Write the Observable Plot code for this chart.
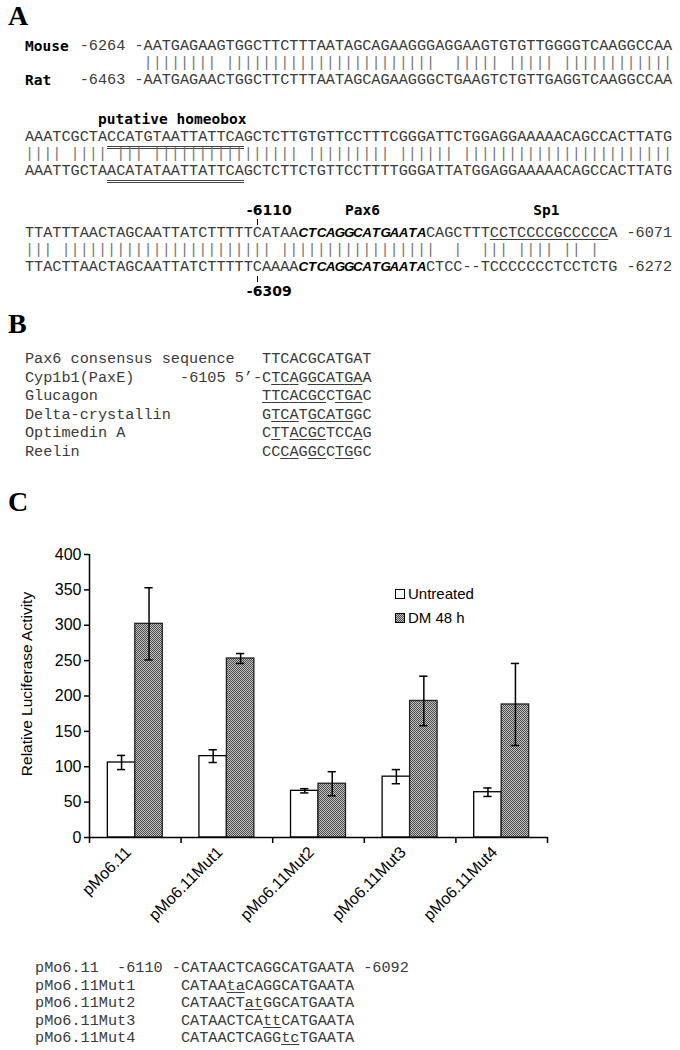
<!DOCTYPE html>
<html><head><meta charset="utf-8">
<script src="https://cdn.jsdelivr.net/npm/d3@7"></script>
<script src="https://cdn.jsdelivr.net/npm/@observablehq/plot@0.6"></script>
<style>
html,body{margin:0;padding:0;background:#fff;}
#page{position:relative;width:680px;height:1050px;overflow:hidden;}
.t{position:absolute;white-space:pre;line-height:18px;height:18px;}
.mono{font-family:"Liberation Mono","Courier New",monospace;font-size:15.2px;color:#3a3a3a;}
.bar{color:#777;}
.lab{font-family:"DejaVu Sans Mono",monospace;font-weight:bold;font-size:14.5px;color:#000;}
.num{font-family:"DejaVu Sans",sans-serif;font-weight:bold;font-size:14px;color:#000;}
.panel{font-family:"Liberation Serif","Times New Roman",serif;font-weight:bold;font-size:28px;line-height:30px;height:30px;color:#000;}
.bi{display:inline-block;text-align:center;font-family:"Liberation Sans",Arial,sans-serif;font-weight:bold;font-style:italic;font-size:13.4px;color:#000;}
.dbl{border-bottom:3px double #444;}
.ul{text-decoration:underline;text-decoration-thickness:1px;text-underline-offset:2px;}
.tick{position:absolute;width:1.5px;height:6px;background:#000;}
.leg{position:absolute;font-family:"Liberation Sans",Arial,sans-serif;font-size:15px;line-height:18px;color:#000;white-space:pre;}
.sw{position:absolute;width:8px;height:8px;border:1.5px solid #000;}
.ylab{position:absolute;font-family:"Liberation Sans",Arial,sans-serif;font-size:15.5px;line-height:18px;color:#000;white-space:pre;transform:translate(-50%,-50%) rotate(-90deg);}
#chart{position:absolute;left:0;top:530px;}
</style></head>
<body><div id="page"><div id="chart"></div></div>
<script>
// ---------- Panel A data ----------
const mouseLabel = "Mouse", ratLabel = "Rat";
const mouseStart = "-6264", ratStart = "-6463";
const mouseRows = [
  "AATGAGAAGTGGCTTCTTTAATAGCAGAAGGGAGGAAGTGTGTTGGGGTCAAGGCCAA",
  "AAATCGCTACCATGTAATTATTCAGCTCTTGTGTTCCTTTCGGGATTCTGGAGGAAAAACAGCCACTTATG",
  "TTATTTAACTAGCAATTATCTTTTTCATAACTCAGGCATGAATACAGCTTTCCTCCCCGCCCCCA"
];
const ratRows = [
  "AATGAGAACTGGCTTCTTTAATAGCAGAAGGGCTGAAGTCTGTTGAGGTCAAGGCCAA",
  "AAATTGCTAACATATAATTATTCAGCTCTTCTGTTCCTTTTGGGATTATGGAGGAAAAACAGCCACTTATG",
  "TTACTTAACTAGCAATTATCTTTTTCAAAACTCAGGCATGAATACTCC--TCCCCCCCTCCTCTG"
];
const mouseEnd = "-6071", ratEnd = "-6272";
const homeoboxLabel = "putative homeobox";
const pax6Label = "Pax6", sp1Label = "Sp1";
const mouseMark = "-6110", ratMark = "-6309";

// ---------- Panel B data ----------
const consensusLabel = "Pax6 consensus sequence";
const consensusSeq = "TTCACGCATGAT";
const siteNames = ["Cyp1b1(PaxE)", "Glucagon", "Delta-crystallin", "Optimedin A", "Reelin"];
const sitePrefix = ["-6105 5\u2019-", "", "", "", ""];
const siteSeqs = ["CTCAGGCATGAA", "TTCACGCCTGAC", "GTCATGCATGGC", "CTTACGCTCCAG", "CCCAGGCCTGGC"];

// ---------- Panel C data ----------
const constructs = ["pMo6.11", "pMo6.11Mut1", "pMo6.11Mut2", "pMo6.11Mut3", "pMo6.11Mut4"];
const seriesNames = ["Untreated", "DM 48 h"];
const untreated = [106, 115, 66, 86, 64];
const untreatedErr = [10, 9, 3, 10, 6];
const dm48 = [302, 253, 76, 193, 188];
const dm48Err = [51, 7, 17, 35, 58];
const yTicks = [0, 50, 100, 150, 200, 250, 300, 350, 400];
const yLabel = "Relative Luciferase Activity";

// ---------- Mutant sequences ----------
const mutSeqs = ["CATAACTCAGGCATGAATA", "CATAAtaCAGGCATGAATA", "CATAACTatGGCATGAATA", "CATAACTCAttCATGAATA", "CATAACTCAGGtcTGAATA"];
const wtStart = "-6110", wtEnd = "-6092";

// ---------- layout helpers ----------
const CW = 15.2 * 0.6, X0 = 25;
const page = document.getElementById("page");
const colX = c => X0 + c * CW;
function put(html, x, yc, cls) {
  const d = document.createElement("div");
  d.className = "t " + cls;
  d.style.left = x + "px";
  d.style.top = (yc - 9) + "px";
  d.innerHTML = html;
  page.appendChild(d);
  return d;
}
function centerPut(html, xc, yc, cls) {
  const d = put(html, 0, yc, cls);
  d.style.left = (xc - d.getBoundingClientRect().width / 2) + "px";
  return d;
}
function panel(letter, y) {
  const d = document.createElement("div");
  d.className = "t panel"; d.style.left = "8px"; d.style.top = (y - 15) + "px";
  d.textContent = letter; page.appendChild(d);
}
function matchLine(a, b) {
  let s = "";
  for (let i = 0; i < a.length; i++) s += (a[i] === b[i] && a[i] !== "-") ? "|" : " ";
  return s;
}
function wrap(seq, ranges) {
  let out = "", i = 0;
  ranges.sort((p, q) => p[0] - q[0]);
  for (const [f, t, cls] of ranges) {
    out += seq.slice(i, f);
    if (cls === "bi") {
      for (const ch of seq.slice(f, t)) out += `<span class="bi" style="width:${CW}px">${ch}</span>`;
    } else {
      out += `<span class="${cls}">${seq.slice(f, t)}</span>`;
    }
    i = t;
  }
  return out + seq.slice(i);
}

// ---------- Panel A ----------
panel("A", 16);
const rowY = [[46, 63, 80], [137, 154, 171], [233, 250, 267]];
const homeo = [9, 24], pax = [30, 44], sp1 = [51, 64];
put(mouseLabel, colX(0), rowY[0][0], "lab");
put(ratLabel, colX(0), rowY[0][2], "lab");
put(`${mouseStart} -${mouseRows[0]}`, colX(6), rowY[0][0], "mono");
put(matchLine(mouseRows[0], ratRows[0]), colX(13), rowY[0][1], "mono bar");
put(`${ratStart} -${ratRows[0]}`, colX(6), rowY[0][2], "mono");
put(homeoboxLabel, colX(8), 119, "lab");
put(wrap(mouseRows[1], [[homeo[0], homeo[1], "dbl"]]), colX(0), rowY[1][0], "mono");
put(matchLine(mouseRows[1], ratRows[1]), colX(0), rowY[1][1], "mono bar");
put(wrap(ratRows[1], [[homeo[0], homeo[1], "dbl"]]), colX(0), rowY[1][2], "mono");
const markCol = 25;
const markX = colX(markCol) + CW / 2;
put(mouseMark, markX - 10.7, 210, "num");
const t1 = document.createElement("div"); t1.className = "tick";
t1.style.left = (markX - 0.75) + "px"; t1.style.top = "219px"; page.appendChild(t1);
centerPut(pax6Label, (colX(pax[0]) + colX(pax[1])) / 2, 210, "lab");
centerPut(sp1Label, (colX(sp1[0]) + colX(sp1[1])) / 2 - 3, 210, "lab");
put(wrap(mouseRows[2], [[pax[0], pax[1], "bi"], [sp1[0], sp1[1], "ul"]]) + " " + mouseEnd, colX(0), rowY[2][0], "mono");
put(matchLine(mouseRows[2], ratRows[2]), colX(0), rowY[2][1], "mono bar");
put(wrap(ratRows[2], [[pax[0], pax[1], "bi"]]) + " " + ratEnd, colX(0), rowY[2][2], "mono");
const t2 = document.createElement("div"); t2.className = "tick";
t2.style.left = (markX - 0.75) + "px"; t2.style.top = "276px"; page.appendChild(t2);
put(ratMark, markX - 10.7, 291, "num");

// ---------- Panel B ----------
panel("B", 324);
const bY0 = 359, bDY = 18.6;
put(consensusLabel, colX(0), bY0, "mono");
put(consensusSeq, colX(26), bY0, "mono");
siteNames.forEach((name, k) => {
  const seq = siteSeqs[k];
  let html = "";
  for (let i = 0; i < seq.length; i++) {
    html += seq[i] === consensusSeq[i] ? `<span class="ul">${seq[i]}</span>` : seq[i];
  }
  const y = bY0 + bDY * (k + 1);
  put(name, colX(0), y, "mono");
  put(sitePrefix[k] + html, colX(26 - sitePrefix[k].length), y, "mono");
});

// ---------- Panel C ----------
panel("C", 502);
const bars = [];
constructs.forEach((c, i) => {
  [[untreated, untreatedErr], [dm48, dm48Err]].forEach(([vals, errs], j) => {
    const x1 = i + 0.2 + 0.3 * j;
    bars.push({construct: c, series: seriesNames[j], x1, x2: x1 + 0.3, xc: x1 + 0.15,
      value: vals[i], lo: vals[i] - errs[i], hi: vals[i] + errs[i]});
  });
});
const defs = () => {
  const ns = "http://www.w3.org/2000/svg";
  const d = document.createElementNS(ns, "defs");
  d.innerHTML = `<pattern id="dmPattern" width="2" height="2" patternUnits="userSpaceOnUse"><rect width="2" height="2" fill="#c4c4c4"/><rect width="1" height="1" fill="#4a4a4a"/><rect x="1" y="1" width="1" height="1" fill="#4a4a4a"/></pattern>`;
  return d;
};
const capW = 0.045;
const chart = Plot.plot({
  width: 680, height: 407,
  marginTop: 24, marginBottom: 100, marginLeft: 89, marginRight: 133,
  x: {domain: [0, constructs.length], axis: null},
  y: {domain: [0, 400], axis: null},
  style: {fontFamily: "'Liberation Sans', Arial, sans-serif", fontSize: "16px", color: "#000", background: "transparent", overflow: "visible"},
  marks: [
    defs,
    Plot.rectY(bars.filter(d => d.series === seriesNames[0]), {x1: "x1", x2: "x2", y1: 0, y2: "value", fill: "#fff", stroke: "#000", strokeWidth: 1.3}),
    Plot.rectY(bars.filter(d => d.series === seriesNames[1]), {x1: "x1", x2: "x2", y1: 0, y2: "value", fill: "url(#dmPattern)", stroke: "#222", strokeWidth: 1.3}),
    Plot.ruleX(bars, {x: "xc", y1: "lo", y2: "hi", stroke: "#000", strokeWidth: 1.5}),
    Plot.ruleY(bars, {x1: d => d.xc - capW, x2: d => d.xc + capW, y: "lo", stroke: "#000", strokeWidth: 1.5}),
    Plot.ruleY(bars, {x1: d => d.xc - capW, x2: d => d.xc + capW, y: "hi", stroke: "#000", strokeWidth: 1.5}),
    Plot.ruleX([0], {y1: 0, y2: 400, stroke: "#000", strokeWidth: 1.5}),
    Plot.ruleY([0], {x1: 0, x2: constructs.length, stroke: "#000", strokeWidth: 1.5}),
    Plot.axisY({ticks: yTicks, tickSize: 5, tickPadding: 3, tickFormat: d => String(d), strokeWidth: 1.5, label: null}),
    Plot.axisX({ticks: d3.range(constructs.length + 1), tickSize: 6, tickFormat: () => "", label: null, strokeWidth: 1.5}),
    Plot.axisX({ticks: constructs.map((c, i) => i + 0.5), tickSize: 0, tickPadding: 12, tickRotate: -45, dx: -7,
      tickFormat: v => constructs[Math.floor(v)], label: null})
  ]
});
document.getElementById("chart").appendChild(chart);

const yl = document.createElement("div"); yl.className = "ylab";
yl.style.left = "27px"; yl.style.top = "684px"; yl.textContent = yLabel; page.appendChild(yl);

// legend
const legY = [594, 618];
seriesNames.forEach((name, j) => {
  const sw = document.createElement("div"); sw.className = "sw";
  sw.style.left = "395px"; sw.style.top = (legY[j] - 5.5) + "px";
  sw.style.background = j === 0 ? "#fff" : "repeating-conic-gradient(#4a4a4a 0 25%, #c4c4c4 0 50%) 0 0/2px 2px";
  page.appendChild(sw);
  const tx = document.createElement("div"); tx.className = "leg";
  tx.style.left = "408px"; tx.style.top = (legY[j] - 9) + "px"; tx.textContent = name;
  page.appendChild(tx);
});

// ---------- mutant sequences ----------
const mY0 = 968, mDY = 17.6;
constructs.forEach((name, k) => {
  const seq = mutSeqs[k];
  let html = "";
  for (const ch of seq) html += ch === ch.toLowerCase() ? `<span class="ul">${ch}</span>` : ch;
  const y = mY0 + mDY * k;
  put(name, colX(1.1), y, "mono");
  if (k === 0) put(`${wtStart} -${html} ${wtEnd}`, colX(1.1 + 9), y, "mono");
  else put(html, colX(1.1 + 16), y, "mono");
});
</script>
</body></html>
